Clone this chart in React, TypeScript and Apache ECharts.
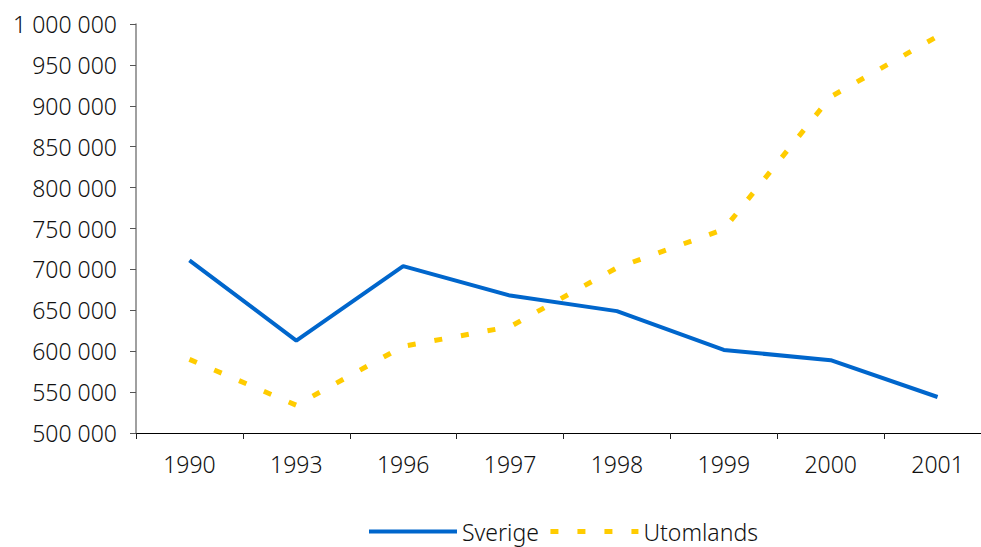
import React, { useEffect, useRef } from "react";
import * as echarts from "echarts";

const years = ["1990", "1993", "1996", "1997", "1998", "1999", "2000", "2001"];
const sverige = [711000, 613000, 704000, 668000, 649000, 601500, 589000, 544000];
const utomlands = [590000, 534000, 606000, 630000, 702000, 749000, 911000, 985000];
const yMin = 500000;
const yMax = 1000000;
const yStep = 50000;

const FONT = "Noto Sans";

function fmt(v: number): string {
  return String(v).replace(/\B(?=(\d{3})+(?!\d))/g, " ");
}

export default function App() {
  const ref = useRef<HTMLDivElement>(null);
  useEffect(() => {
    if (!ref.current) return;
    const chart = echarts.init(ref.current, undefined, { renderer: "svg" });
    chart.setOption({
      animation: false,
      backgroundColor: "#ffffff",
      textStyle: { fontFamily: FONT },
      grid: { left: 136, right: 4, top: 24, bottom: 114, containLabel: false },
      xAxis: {
        type: "category",
        data: years,
        boundaryGap: true,
        axisLine: { show: true, lineStyle: { color: "#000000", width: 1 } },
        axisTick: { show: true, length: 6, alignWithLabel: false, lineStyle: { color: "#222222" } },
        axisLabel: { color: "#111111", fontSize: 23, fontWeight: 300, fontFamily: FONT, margin: 19 },
        splitLine: { show: false },
      },
      yAxis: {
        type: "value",
        min: yMin,
        max: yMax,
        interval: yStep,
        axisLine: { show: true, lineStyle: { color: "#808080", width: 1.5 } },
        axisTick: { show: true, length: 6, lineStyle: { color: "#555555" } },
        axisLabel: {
          color: "#111111",
          fontSize: 23,
          fontWeight: 300,
          fontFamily: FONT,
          margin: 19,
          formatter: (v: number) => fmt(v),
        },
        splitLine: { show: false },
      },
      legend: {
        data: [
          { name: "Sverige", lineStyle: { width: 4 } },
          { name: "Utomlands", lineStyle: { width: 5 } },
        ],
        left: 367,
        top: 520,
        padding: 0,
        itemWidth: 88,
        itemHeight: 14,
        itemGap: 9,
        itemStyle: { opacity: 0 },
        textStyle: { color: "#111111", fontSize: 23, fontWeight: 300, fontFamily: FONT },
      },
      series: [
        {
          name: "Sverige",
          type: "line",
          data: sverige,
          symbol: "none",
          lineStyle: { color: "#0066CC", width: 4 },
          itemStyle: { color: "#0066CC" },
        },
        {
          name: "Utomlands",
          type: "line",
          data: utomlands,
          symbol: "none",
          lineStyle: { color: "#FFCC00", width: 5, type: [8, 19] },
          itemStyle: { color: "#FFCC00" },
        },
      ],
    });
    return () => chart.dispose();
  }, []);
  return (
    <div style={{ position: "fixed", left: 0, top: 0, width: 981, height: 547, overflow: "hidden" }}>
      <div ref={ref} style={{ width: 995, height: 547 }} />
    </div>
  );
}
